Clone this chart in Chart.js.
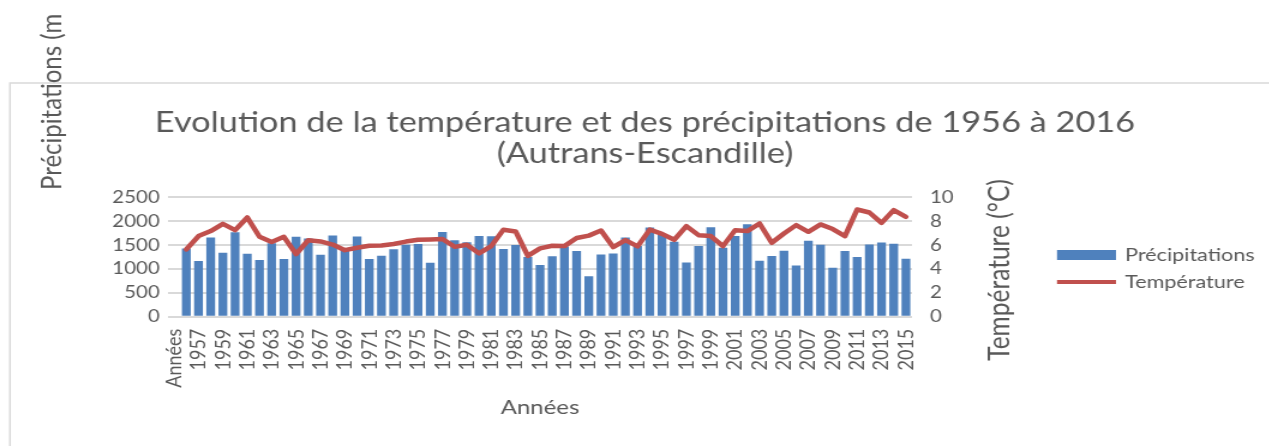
<!DOCTYPE html>
<html>
<head>
<meta charset="utf-8">
<script src="https://cdn.jsdelivr.net/npm/chart.js@4"></script>
<style>
  html, body { margin: 0; padding: 0; background: #fff; overflow: hidden; }
  #wrap { width: 1269px; height: 446px; overflow: hidden; }
  /* the original picture is stretched sideways, so the canvas is too */
  #chart { transform: scaleX(1.2); transform-origin: 0 0; }
</style>
</head>
<body>
<div id="wrap"><canvas id="chart" width="1058" height="446"></canvas></div>
<script>
// categories (first one is the header cell that ended up in the axis)
const years = ['Années',
  '1956', '1957', '1958', '1959', '1960', '1961', '1962', '1963', '1964', '1965',
  '1966', '1967', '1968', '1969', '1970', '1971', '1972', '1973', '1974', '1975',
  '1976', '1977', '1978', '1979', '1980', '1981', '1982', '1983', '1984', '1985',
  '1986', '1987', '1988', '1989', '1990', '1991', '1992', '1993', '1994', '1995',
  '1996', '1997', '1998', '1999', '2000', '2001', '2002', '2003', '2004', '2005',
  '2006', '2007', '2008', '2009', '2010', '2011', '2012', '2013', '2014', '2015'];

// precipitations (mm)
const precip = [null,
  1430, 1170, 1660, 1340, 1770, 1320, 1190, 1540, 1210, 1675,
  1640, 1300, 1705, 1400, 1680, 1210, 1280, 1415, 1510, 1525,
  1130, 1775, 1605, 1560, 1690, 1685, 1418, 1501, 1250, 1085,
  1268, 1470, 1380, 846, 1306, 1327, 1662, 1480, 1871, 1720,
  1571, 1139, 1481, 1878, 1445, 1690, 1941, 1173, 1271, 1382,
  1076, 1592, 1508, 1026, 1376, 1250, 1515, 1557, 1529, 1215];

// temperature (°C)
const temp = [null,
  5.64, 6.76, 7.18, 7.79, 7.26, 8.32, 6.70, 6.26, 6.70, 5.25,
  6.42, 6.31, 6.05, 5.58, 5.78, 5.95, 5.98, 6.10, 6.30, 6.45,
  6.48, 6.52, 5.86, 6.03, 5.31, 5.92, 7.30, 7.15, 5.10, 5.73,
  5.95, 5.92, 6.60, 6.80, 7.23, 5.83, 6.42, 5.90, 7.30, 6.95,
  6.45, 7.60, 6.84, 6.76, 5.92, 7.26, 7.18, 7.82, 6.20, 6.98,
  7.68, 7.12, 7.74, 7.35, 6.76, 8.99, 8.74, 7.87, 8.94, 8.38];

const precipTicks = [0, 500, 1000, 1500, 2000, 2500];
const tempTicks = [0, 2, 4, 6, 8, 10];

const grey = '#595959';
const blue = '#4f81bd';
const red = '#c0504d';

Chart.defaults.font.family = 'Lato, sans-serif';
Chart.defaults.color = grey;

// frame, side titles and legend drawn by hand
const extras = {
  id: 'extras',
  beforeDraw(chart) {
    const ctx = chart.ctx;
    ctx.save();
    ctx.strokeStyle = '#d9d9d9';
    ctx.lineWidth = 1.5;
    ctx.beginPath();
    ctx.moveTo(8.3, 446);
    ctx.lineTo(8.3, 83);
    ctx.lineTo(1058, 83);
    ctx.stroke();
    ctx.restore();
  },
  afterDraw(chart) {
    const ctx = chart.ctx;
    ctx.save();
    ctx.fillStyle = grey;
    ctx.textBaseline = 'middle';

    ctx.font = '24px Lato';
    ctx.save();
    ctx.translate(43.3, 190);
    ctx.rotate(-Math.PI / 2);
    ctx.textAlign = 'left';
    ctx.fillText('Précipitations (m', 0, 0);
    ctx.restore();

    ctx.font = '24.5px Lato';
    ctx.save();
    ctx.translate(833.3, 270);
    ctx.rotate(-Math.PI / 2);
    ctx.textAlign = 'center';
    ctx.fillText('Température (°C)', 0, 0);
    ctx.restore();

    // legend
    ctx.fillStyle = blue;
    ctx.fillRect(880.8, 250, 49.2, 10);
    ctx.strokeStyle = red;
    ctx.lineWidth = 4;
    ctx.beginPath();
    ctx.moveTo(880.8, 282);
    ctx.lineTo(930, 282);
    ctx.stroke();
    ctx.fillStyle = grey;
    ctx.font = '18px Lato';
    ctx.textAlign = 'left';
    ctx.fillText('Précipitations', 937.5, 255);
    ctx.fillText('Température', 937.5, 282);
    ctx.restore();
  }
};

new Chart(document.getElementById('chart'), {
  data: {
    labels: years,
    datasets: [
      {
        type: 'line',
        label: 'Température',
        data: temp,
        yAxisID: 'y1',
        borderColor: red,
        borderWidth: 4.5,
        borderJoinStyle: 'round',
        borderCapStyle: 'round',
        pointRadius: 0,
        tension: 0,
        order: 1
      },
      {
        type: 'bar',
        label: 'Précipitations',
        data: precip,
        yAxisID: 'y',
        backgroundColor: blue,
        barPercentage: 0.72,
        categoryPercentage: 1.0,
        order: 2
      }
    ]
  },
  options: {
    responsive: false,
    animation: false,
    layout: { padding: { left: 17, right: 0, top: 97, bottom: 22 } },
    plugins: {
      legend: { display: false },
      tooltip: { enabled: false },
      title: {
        display: true,
        text: ['Evolution de la température et des précipitations de 1956 à 2016', '(Autrans-Escandille)'],
        color: grey,
        font: { size: 28.6, weight: 'normal', lineHeight: 1.08 },
        padding: { top: 10, bottom: 28.7 }
      }
    },
    scales: {
      x: {
        grid: { display: false },
        border: { display: false },
        ticks: {
          autoSkip: false,
          minRotation: 90,
          maxRotation: 90,
          padding: 4,
          color: grey,
          font: { size: 18 },
          callback: function (value, index) {
            return index % 2 === 0 ? this.getLabelForValue(value) : '';
          }
        },
        title: {
          display: true,
          text: 'Années',
          color: grey,
          font: { size: 20 },
          padding: { top: 0, bottom: 4 }
        },
        afterFit(scale) { scale.height = 107.3; }
      },
      y: {
        position: 'left',
        min: 0,
        max: 2500,
        grid: { color: '#d9d9d9', lineWidth: 2, drawTicks: false },
        border: { display: false },
        ticks: { stepSize: 500, padding: 7, color: grey, font: { size: 17 }, callback: v => String(v) },
        afterBuildTicks(scale) { scale.ticks = precipTicks.map(v => ({ value: v })); },
        afterFit(scale) { scale.width = 123; }
      },
      y1: {
        position: 'right',
        min: 0,
        max: 10,
        grid: { display: false, drawTicks: false },
        border: { display: false },
        ticks: { stepSize: 2, padding: 15, color: grey, font: { size: 17 }, callback: v => String(v) },
        afterBuildTicks(scale) { scale.ticks = tempTicks.map(v => ({ value: v })); },
        afterFit(scale) { scale.width = 298; }
      }
    }
  },
  plugins: [extras]
});
</script>
</body>
</html>
